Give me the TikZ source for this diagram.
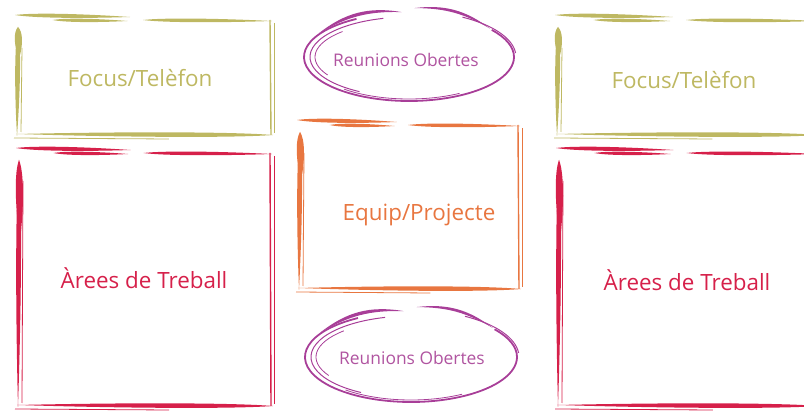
\documentclass[tikz,border=0pt]{standalone}
\usepackage{fontspec}
\setmainfont{Open Sans}
\usetikzlibrary{calc}

\definecolor{focusolive}{RGB}{190,184,98}
\definecolor{areacrimson}{RGB}{214,32,74}
\definecolor{teamorange}{RGB}{232,118,64}
\definecolor{meetpurple}{RGB}{168,62,152}
\definecolor{meettext}{RGB}{176,84,160}

% tapered brush stroke between two named coordinates
\newcommand{\brush}[4]{%
  \fill[#1] (#2) .. controls ($(#2)!0.15!(#3)!#4!90:(#3)$) and ($(#2)!0.55!(#3)!#4!90:(#3)$) .. (#3)
    .. controls ($(#3)!0.45!(#2)!#4!90:(#2)$) and ($(#3)!0.85!(#2)!#4!90:(#2)$) .. (#2) -- cycle;}

% curved brush stroke (crescent) between two named coordinates
\newcommand{\crescent}[5]{%
  \fill[#1] (#2) to[bend left=#4] (#3) to[bend right=#5] (#2) -- cycle;}

% hand-drawn frame between two corners
\newcommand{\sketchframe}[3]{%
  \coordinate (nw) at #2;
  \coordinate (se) at #3;
  \coordinate (ne) at (se |- nw);
  \coordinate (sw) at (nw |- se);
  % top edge
  \coordinate (t1) at ($(nw)+(1,-3)$);
  \coordinate (t2) at ($(nw)!0.45!(ne)+(0,-1)$);
  \brush{#1}{t1}{t2}{1.3pt}
  \coordinate (t3) at ($(nw)!0.15!(ne)+(0,2)$);
  \coordinate (t4) at ($(nw)!0.44!(ne)+(0,3)$);
  \brush{#1}{t3}{t4}{1.1pt}
  \coordinate (t5) at ($(nw)!0.5!(ne)+(0,2)$);
  \coordinate (t6) at ($(ne)+(0,3)$);
  \brush{#1}{t5}{t6}{1.2pt}
  % left edge
  \coordinate (l1) at ($(nw)+(4,9)$);
  \coordinate (l2) at ($(sw)+(3,1)$);
  \coordinate (l3) at ($(nw)!0.35!(sw)+(5,0)$);
  \brush{#1}{l1}{l2}{1.6pt}
  \brush{#1}{l1}{l3}{2.4pt}
  \draw[#1, line width=0.4pt] ($(nw)+(8,30)$) -- ($(sw)+(7,-3)$);
  % right edge
  \draw[#1, line width=0.7pt] ($(ne)+(-2,2)$) -- ($(se)+(-1,0)$);
  \draw[#1, line width=0.4pt] ($(ne)+(2,5)$) -- ($(se)+(2,-2)$);
  % bottom edge
  \coordinate (b1) at ($(sw)+(2,-1)$);
  \coordinate (b2) at ($(se)+(1,0)$);
  \brush{#1}{b2}{b1}{1.5pt}
  \draw[#1, line width=0.4pt] ($(sw)+(0,3)$) -- ($(sw)!0.6!(se)+(0,4)$);
}

% hand-drawn oval round a centre
\newcommand{\sketchoval}[4]{%
  \coordinate (oc) at #2;
  \draw[#1, line width=0.9pt] ($(oc)+(240:#3 and #4)$) arc[start angle=240, end angle=-38, x radius=#3, y radius=#4];
  \draw[#1, line width=0.5pt] ($(oc)+(255:#3-6 and #4-4)$) arc[start angle=255, end angle=120, x radius=#3-6, y radius=#4-4];
  \draw[#1, line width=0.4pt] ($(oc)+(225:#3-11 and #4-8)$) arc[start angle=225, end angle=150, x radius=#3-11, y radius=#4-8];
  \draw[#1, line width=0.4pt] ($(oc)+(130:#3-4 and #4-2)$) arc[start angle=130, end angle=60, x radius=#3-4, y radius=#4-2];
  \coordinate (o1) at ($(oc)+(212:#3+1 and #4+1)$);
  \coordinate (o2) at ($(oc)+(266:#3 and #4+1)$);
  \crescent{#1}{o1}{o2}{24}{16}
  \coordinate (o3) at ($(oc)+(273:#3 and #4+5)$);
  \coordinate (o4) at ($(oc)+(320:#3+1 and #4)$);
  \crescent{#1}{o3}{o4}{22}{15}
  \draw[#1, line width=0.5pt] ($(oc)+(300:#3+2 and #4+2)$) arc[start angle=300, end angle=355, x radius=#3+2, y radius=#4+2];
}

\begin{document}
\begin{tikzpicture}[
    x=0.5pt, y=-0.5pt,
    label/.style={font=\fontsize{11.2}{13}\selectfont, inner sep=0pt},
    focus/.style={label, text=focusolive},
    area/.style={label, text=areacrimson},
    team/.style={label, text=teamorange},
    meet/.style={label, font=\fontsize{8.7}{10.5}\selectfont, text=meettext}
]
\useasboundingbox (0,0) rectangle (804,411);
\clip (0,0) rectangle (804,411);

% Define frames
\sketchframe{focusolive}{(14,18)}{(272,135)}
\sketchframe{areacrimson}{(15,151)}{(272,406)}
\sketchframe{teamorange}{(296,123)}{(520,289)}
\sketchframe{focusolive}{(554,18)}{(818,135)}
\sketchframe{areacrimson}{(555,151)}{(818,406)}
\sketchoval{meetpurple}{(409,57)}{105}{44}
\sketchoval{meetpurple}{(411,357)}{106}{45}

% Define labels
\node[focus] (focusL) at (140,78) {Focus/Telèfon};
\node[focus] (focusR) at (684,80) {Focus/Telèfon};
\node[area] (areaL) at (144,278) {Àrees de Treball};
\node[area] (areaR) at (687,280) {Àrees de Treball};
\node[team] (team) at (419,215) {Equip/Projecte};
\node[meet] (meetT) at (406,60) {Reunions Obertes};
\node[meet] (meetB) at (412,358) {Reunions Obertes};

\end{tikzpicture}
\end{document}
